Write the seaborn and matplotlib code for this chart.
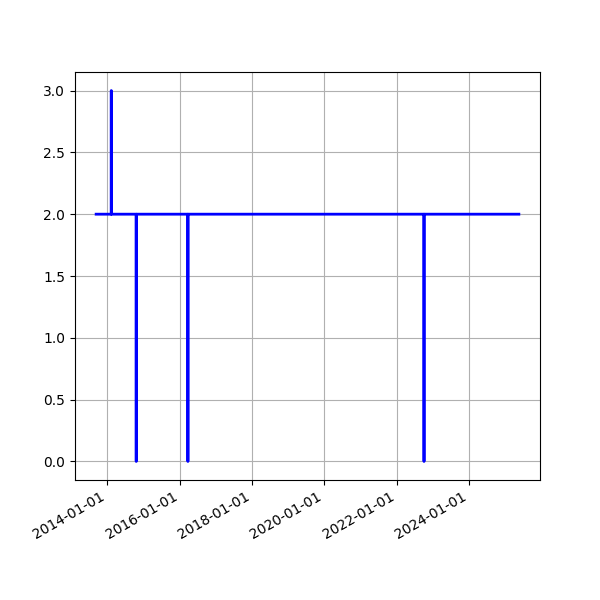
import pandas as pd
import numpy as np
import matplotlib
matplotlib.use('Agg')
import matplotlib.pyplot as plt
import matplotlib.dates as mdates
import seaborn as sns

# Datas e valores
dates = ['2013-09-10', '2014-02-09', '2014-02-10', '2014-02-11',
         '2014-10-19', '2014-10-20', '2014-10-21',
         '2016-03-24', '2016-03-25', '2016-03-26',
         '2022-10-04', '2022-10-05', '2022-10-06',
         '2025-05-20']
values = [2, 2, 3, 2,
          2, 0, 2,
          2, 0, 2,
          2, 0, 2,
          2]

df = pd.DataFrame({'date': pd.to_datetime(dates), 'value': values})

fig, ax = plt.subplots(figsize=(6, 6), dpi=100)
sns.lineplot(x='date', y='value', data=df, color='blue', linewidth=2, ax=ax)
ax.set_xlabel('')
ax.set_ylabel('')
ax.grid(True)
ax.xaxis.set_major_locator(mdates.YearLocator(2))
ax.xaxis.set_major_formatter(mdates.DateFormatter('%Y-%m-%d'))
fig.autofmt_xdate()
plt.savefig('out.png')
